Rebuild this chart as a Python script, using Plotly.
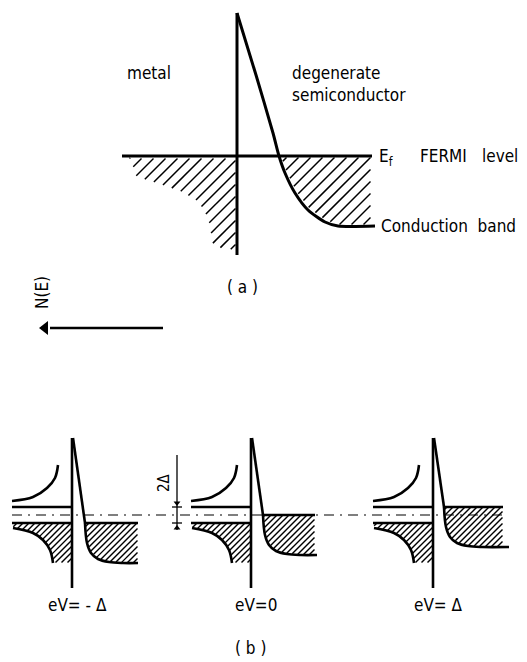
import plotly.graph_objects as go

W, H = 527, 662
FONT = "DejaVu Sans Condensed, Liberation Sans Narrow, DejaVu Sans, sans-serif"
INK = "black"

# ---------------- panel (a): metal / degenerate semiconductor (page-like coords, y down)
a_interface_x = 237
a_interface_y = [13, 255]
a_fermi_y = 156
a_fermi_x = [122, 372]
a_barrier_x = [237, 256, 273, 279, 285, 295, 308, 325, 338, 375]
a_barrier_y = [13, 75, 133, 156, 173, 193, 210, 222, 226, 226]
a_metal_dos_x = [128, 135, 160, 180, 197, 207, 212, 237, 237]
a_metal_dos_y = [157, 178, 186, 193, 203, 220, 248, 252, 157]
a_semi_fill_x = [279, 285, 295, 308, 325, 338, 372, 372]
a_semi_fill_y = [156, 173, 193, 210, 222, 226, 226, 156]
a_hatch_step = 12
ne_arrow_x = [50, 163]
ne_arrow_y = 328

# ---------------- panel (b): superconductor / semiconductor under bias
b_axis_x = [72, 251, 433]
b_labels = ["eV= - Δ", "eV=0", "eV= Δ"]
b_fermi_shift = [8, 0, -8]          # semiconductor Fermi level vs. gap centre
b_cross_dx = [13, 12, 11]           # barrier meets Fermi level
b_fermi_end = [66, 64, 70]
b_band_end = [66, 66, 76]
b_mid_y = 515
b_gap_half = 8
b_peak_y = 438
b_axis_bottom = 588
b_gap_left = -60
b_upper_dx = [-60, -39, -25, -17, -14]
b_upper_dy = [-14, -18, -27, -37, -50]
b_lower_dx = [-59, -39, -29, -22, -19]
b_lower_dy = [13, 18, 25, 35, 48]
b_semi_dx = [0, 2, 6, 13, 24, 38]
b_semi_dy = [0, 20, 30, 36, 39, 40]
b_hatch_step = 6
b_dash_x = [12, 505]
b_2delta_x = 177
b_2delta_y = [455, 530]

fig = go.Figure()


def line(xs, ys, width, shape="linear", dash="solid", smoothing=1.0):
    fig.add_trace(go.Scatter(x=xs, y=ys, mode="lines", hoverinfo="skip", showlegend=False,
                             line=dict(color=INK, width=width, shape=shape, dash=dash,
                                       smoothing=smoothing)))


def hatch(xs, ys, step, width, inset=1.0):
    """Diagonal '/' hatching (x + y = c lines) clipped to the polygon."""
    pts = list(zip(xs, ys))
    if pts[0] != pts[-1]:
        pts.append(pts[0])
    sums = [x + y for x, y in pts]
    c = (int(min(sums) // step) + 1) * step
    hx, hy = [], []
    while c < max(sums):
        hits = []
        for (x1, y1), (x2, y2) in zip(pts[:-1], pts[1:]):
            f1, f2 = x1 + y1 - c, x2 + y2 - c
            if (f1 < 0) != (f2 < 0):
                t = f1 / (f1 - f2)
                hits.append((x1 + t * (x2 - x1), y1 + t * (y2 - y1)))
        hits.sort()
        for k in range(0, len(hits) - 1, 2):
            (xa, ya), (xb, yb) = hits[k], hits[k + 1]
            hx += [xa + inset, xb - inset, None]
            hy += [ya - inset, yb + inset, None]
        c += step
    fig.add_trace(go.Scatter(x=hx, y=hy, mode="lines", hoverinfo="skip", showlegend=False,
                             line=dict(color=INK, width=width)))


# ---- panel (a)
hatch(a_metal_dos_x, a_metal_dos_y, a_hatch_step, 1.5, inset=1.5)
hatch(a_semi_fill_x, a_semi_fill_y, a_hatch_step, 1.5, inset=1.5)
line([a_interface_x, a_interface_x], a_interface_y, 3)
line(a_fermi_x, [a_fermi_y, a_fermi_y], 3)
line(a_barrier_x, a_barrier_y, 3, shape="spline", smoothing=0.7)

# ---- panel (b)
for i, x0 in enumerate(b_axis_x):
    fermi = b_mid_y + b_fermi_shift[i]
    cx = x0 + b_cross_dx[i]
    bot = b_mid_y + b_gap_half
    # metal lower (occupied) branch, hatched
    mx = [x0 + b_gap_left, x0, x0] + [x0 + d for d in reversed(b_lower_dx)]
    my = [bot, bot, b_mid_y + b_lower_dy[-1]] + [b_mid_y + d for d in reversed(b_lower_dy)]
    hatch(mx, my, b_hatch_step, 1.4, inset=0.5)
    # semiconductor filled states
    sx = [cx + d for d in b_semi_dx] + [x0 + b_fermi_end[i], x0 + b_fermi_end[i]]
    sy = [fermi + d for d in b_semi_dy] + [fermi + b_semi_dy[-1], fermi]
    hatch(sx, sy, b_hatch_step, 1.4, inset=0.5)

line(b_dash_x, [b_mid_y, b_mid_y], 1.1, dash="10px,6px,2px,6px")
for i, x0 in enumerate(b_axis_x):
    top = b_mid_y - b_gap_half
    bot = b_mid_y + b_gap_half
    fermi = b_mid_y + b_fermi_shift[i]
    cx = x0 + b_cross_dx[i]
    line([x0, x0], [b_peak_y, b_axis_bottom], 2.6)
    line([x0 + d for d in b_upper_dx], [b_mid_y + d for d in b_upper_dy], 2.6, shape="spline")
    line([x0 + d for d in b_lower_dx], [b_mid_y + d for d in b_lower_dy], 2.6, shape="spline")
    line([x0 + b_gap_left, x0], [top, top], 2.6)
    line([x0 + b_gap_left, x0], [bot, bot], 2.6)
    line([x0 + 1, cx], [b_peak_y, fermi], 2.6)
    line([cx + d for d in b_semi_dx] + [x0 + b_band_end[i]],
         [fermi + d for d in b_semi_dy] + [fermi + b_semi_dy[-1]], 2.6, shape="spline")
    line([cx, x0 + b_fermi_end[i]], [fermi, fermi], 2.6)
    fig.add_annotation(x=x0 + 5, y=605, text=b_labels[i], showarrow=False,
                       xanchor="center", yanchor="middle", font=dict(size=17))

# 2Δ marker
line([b_2delta_x, b_2delta_x], b_2delta_y, 1.3)
for yy in (b_mid_y - b_gap_half, b_mid_y + b_gap_half):
    line([b_2delta_x - 5, b_2delta_x + 5], [yy, yy], 1.3)
fig.add_trace(go.Scatter(x=[b_2delta_x, b_2delta_x],
                         y=[b_mid_y - b_gap_half - 4, b_mid_y + b_gap_half + 5],
                         mode="markers", hoverinfo="skip", showlegend=False,
                         marker=dict(symbol=["triangle-down", "triangle-up"], size=6, color=INK)))
fig.add_annotation(x=164, y=483, text="2Δ", textangle=-90, showarrow=False,
                   xanchor="center", yanchor="middle", font=dict(size=15))

# N(E) arrow
line(ne_arrow_x, [ne_arrow_y, ne_arrow_y], 2.4)
fig.add_trace(go.Scatter(x=[ne_arrow_x[0] - 5], y=[ne_arrow_y], mode="markers",
                         hoverinfo="skip", showlegend=False,
                         marker=dict(symbol="triangle-left", size=12, color=INK)))
fig.add_annotation(x=42, y=293, text="N(E)", textangle=-90, showarrow=False,
                   xanchor="center", yanchor="middle", font=dict(size=17))

# texts for panel (a)
texts = [
    (125, 73, "metal", "left"),
    (290, 84, "degenerate<br>semiconductor", "left"),
    (377, 157, "E<sub>f</sub>", "left"),
    (418, 156, "FERMI", "left"),
    (480, 156, "level", "left"),
    (379, 226, "Conduction  band", "left"),
    (242, 287, "( a )", "center"),
    (250, 648, "( b )", "center"),
]
for x, y, t, anc in texts:
    fig.add_annotation(x=x, y=y, text=t, showarrow=False, xanchor=anc, yanchor="middle",
                       align="left", font=dict(size=17))

fig.update_layout(
    width=W, height=H, margin=dict(l=0, r=0, t=0, b=0),
    paper_bgcolor="white", plot_bgcolor="white",
    font=dict(family=FONT, color=INK, size=17),
    xaxis=dict(range=[0, W], visible=False, fixedrange=True),
    yaxis=dict(range=[H, 0], visible=False, fixedrange=True),
    showlegend=False,
)
fig.write_html("out.html", config={"displayModeBar": False})
